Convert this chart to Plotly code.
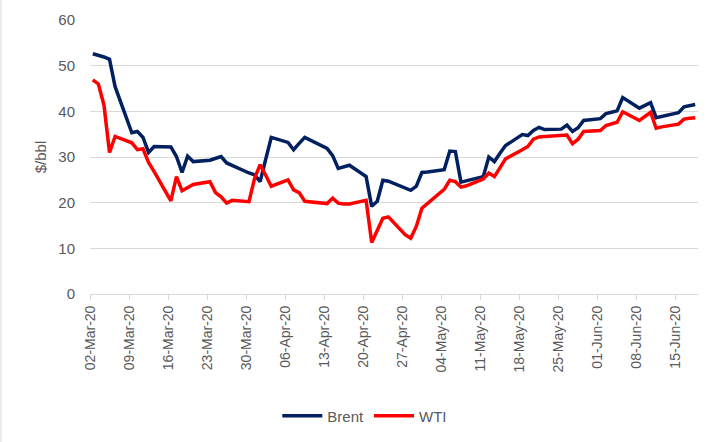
import pandas as pd
import plotly.graph_objects as go

dates = [
    "2020-03-02", "2020-03-03", "2020-03-04", "2020-03-05", "2020-03-06",
    "2020-03-09", "2020-03-10", "2020-03-11", "2020-03-12", "2020-03-13",
    "2020-03-16", "2020-03-17", "2020-03-18", "2020-03-19", "2020-03-20",
    "2020-03-23", "2020-03-24", "2020-03-25", "2020-03-26", "2020-03-27",
    "2020-03-30", "2020-03-31", "2020-04-01", "2020-04-02", "2020-04-03",
    "2020-04-06", "2020-04-07", "2020-04-08", "2020-04-09",
    "2020-04-13", "2020-04-14", "2020-04-15", "2020-04-16", "2020-04-17",
    "2020-04-20", "2020-04-21", "2020-04-22", "2020-04-23", "2020-04-24",
    "2020-04-27", "2020-04-28", "2020-04-29", "2020-04-30", "2020-05-01",
    "2020-05-04", "2020-05-05", "2020-05-06", "2020-05-07", "2020-05-08",
    "2020-05-11", "2020-05-12", "2020-05-13", "2020-05-14", "2020-05-15",
    "2020-05-18", "2020-05-19", "2020-05-20", "2020-05-21", "2020-05-22",
    "2020-05-25", "2020-05-26", "2020-05-27", "2020-05-28", "2020-05-29",
    "2020-06-01", "2020-06-02", "2020-06-03", "2020-06-04", "2020-06-05",
    "2020-06-08", "2020-06-09", "2020-06-10", "2020-06-11", "2020-06-12",
    "2020-06-15", "2020-06-16", "2020-06-17", "2020-06-18",
]

brent = [
    52.6, 52.3, 51.9, 51.4, 45.4,
    35.3, 35.6, 34.3, 31.0, 32.3,
    32.2, 30.1, 26.6, 30.2, 29.0,
    29.3, 29.7, 30.1, 28.7, 28.1,
    26.5, 26.1, 24.6, 29.5, 34.3,
    33.2, 31.6, 33.0, 34.3,
    31.9, 30.3, 27.5, 27.8, 28.2,
    25.7, 19.2, 20.3, 24.9, 24.7,
    23.2, 22.7, 23.6, 26.6, 26.7,
    27.2, 31.3, 31.2, 24.5, 24.8,
    25.7, 30.0, 29.0, 30.8, 32.5,
    34.9, 34.7, 35.8, 36.5, 36.0,
    36.1, 37.0, 35.6, 36.4, 38.0,
    38.4, 39.5, 39.8, 40.1, 43.0,
    40.7, 41.3, 41.9, 38.6, 38.9,
    39.7, 41.0, 41.3, 41.5,
]

wti = [
    46.9, 46.0, 41.4, 31.0, 34.5,
    33.1, 31.6, 31.8, 28.8, 26.8,
    20.4, 25.7, 22.6, 23.3, 24.0,
    24.6, 22.2, 21.3, 19.9, 20.5,
    20.2, 25.3, 28.3, 26.0, 23.6,
    25.0, 22.8, 22.2, 20.3,
    19.8, 21.0, 19.9, 19.7, 19.7,
    20.5, 11.3, 14.0, 16.6, 16.9,
    13.0, 12.2, 14.8, 18.8, 19.8,
    22.9, 24.9, 24.6, 23.4, 23.7,
    25.2, 26.5, 25.7, 27.8, 29.6,
    31.6, 32.3, 33.9, 34.4, 34.5,
    34.6, 34.8, 32.9, 33.9, 35.6,
    35.8, 36.9, 37.3, 37.6, 39.9,
    38.0, 38.9, 39.8, 36.3, 36.6,
    37.2, 38.3, 38.5, 38.6,
]

tick_dates = [
    "2020-03-02", "2020-03-09", "2020-03-16", "2020-03-23", "2020-03-30",
    "2020-04-06", "2020-04-13", "2020-04-20", "2020-04-27", "2020-05-04",
    "2020-05-11", "2020-05-18", "2020-05-25", "2020-06-01", "2020-06-08",
    "2020-06-15",
]
tick_labels = [
    "02-Mar-20", "09-Mar-20", "16-Mar-20", "23-Mar-20", "30-Mar-20",
    "06-Apr-20", "13-Apr-20", "20-Apr-20", "27-Apr-20", "04-May-20",
    "11-May-20", "18-May-20", "25-May-20", "01-Jun-20", "08-Jun-20",
    "15-Jun-20",
]

# Excel date axis "between tick marks": each day occupies a slot, the tick
# marks the start of the slot and the point sits in the middle of it.
half_day = pd.Timedelta(hours=12)
x = pd.to_datetime(dates)
tickvals = pd.to_datetime(tick_dates) - half_day
x_range = [x.min() - half_day, x.max() + half_day]

FONT = "Liberation Sans, Arial, sans-serif"
GREY = "#595959"
GRID = "#D9D9D9"

fig = go.Figure()
fig.add_trace(go.Scatter(x=x, y=brent, mode="lines", name="Brent",
                         line=dict(color="#002060", width=3.5)))
fig.add_trace(go.Scatter(x=x, y=wti, mode="lines", name="WTI",
                         line=dict(color="#FF0000", width=3.5)))

fig.update_layout(
    width=718, height=442,
    margin=dict(l=90, r=20, t=20, b=148, autoexpand=False),
    paper_bgcolor="white", plot_bgcolor="white",
    font=dict(family=FONT, color=GREY, size=15),
    showlegend=True,
    legend=dict(orientation="h", x=0.452, xanchor="center", y=-0.445,
                yanchor="middle", font=dict(size=15, color=GREY),
                itemwidth=40, bgcolor="rgba(0,0,0,0)"),
    xaxis=dict(
        type="date", range=x_range, automargin=False,
        tickmode="array", tickvals=tickvals, ticktext=tick_labels,
        tickangle=-90, tickfont=dict(size=14, color=GREY),
        showgrid=False, zeroline=False,
        showline=True, linecolor=GRID, linewidth=1,
        ticks="outside", ticklen=5, tickcolor=GRID, tickwidth=1,
    ),
    yaxis=dict(
        range=[0, 60], dtick=10, tick0=0, automargin=False,
        showgrid=True, gridcolor=GRID, gridwidth=1,
        zeroline=False, showline=False,
        tickfont=dict(size=15, color=GREY),
        ticklabelstandoff=14,
        title=dict(text="$/bbl", font=dict(size=15, color=GREY), standoff=8),
    ),
    shapes=[dict(type="line", xref="paper", yref="paper",
                 x0=-89 / 608, x1=-89 / 608, y0=-148 / 274, y1=1 + 20 / 274,
                 line=dict(color=GRID, width=1))],
)

fig.write_html(
    "out.html",
    config={"displayModeBar": False},
    post_script="document.body.style.margin='0px';"
                "document.body.style.padding='0px';",
)
